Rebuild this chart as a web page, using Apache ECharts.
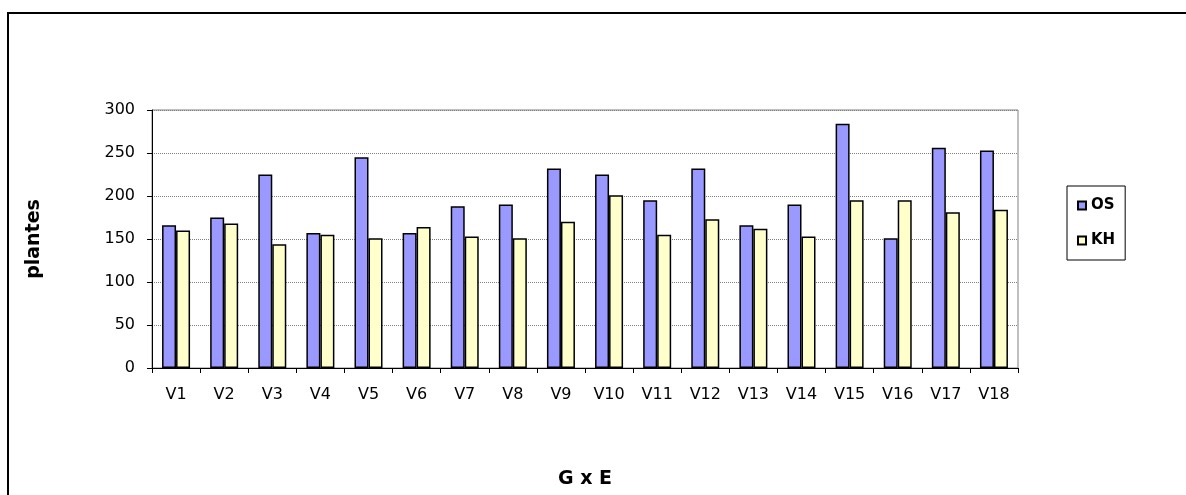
<!DOCTYPE html>
<html>
<head>
<meta charset="utf-8">
<script src="https://cdn.jsdelivr.net/npm/echarts@6/dist/echarts.min.js"></script>
<style>
html,body{margin:0;padding:0;background:#fff;overflow:hidden;}
#chart{width:1186px;height:495px;}
</style>
</head>
<body>
<div id="chart"></div>
<script>
var categories = ['V1','V2','V3','V4','V5','V6','V7','V8','V9','V10','V11','V12','V13','V14','V15','V16','V17','V18'];
var osValues = [166,175,225,157,245,157,188,190,232,225,195,232,166,190,284,151,256,253];
var khValues = [160,168,144,155,151,164,153,151,170,201,155,173,162,153,195,195,181,184];
var yTicks = {min:0, max:300, interval:50};

var chart = echarts.init(document.getElementById('chart'), null, {renderer:'canvas'});
var font = 'DejaVu Sans';
chart.setOption({
  animation:false,
  backgroundColor:'#fff',
  graphic:[
    {type:'line', shape:{x1:8,y1:12,x2:8,y2:495}, style:{stroke:'#000',lineWidth:2}, silent:true},
    {type:'line', shape:{x1:7,y1:13,x2:1186,y2:13}, style:{stroke:'#000',lineWidth:2}, silent:true}
  ],
  grid:{left:152,right:168,top:110,bottom:127,show:true,borderColor:'#808080',borderWidth:1,backgroundColor:'transparent'},
  legend:{
    orient:'vertical', left:1067, top:186,
    data:['OS','KH'],
    itemWidth:8, itemHeight:8, itemGap:20,
    padding:[12,10,12,10],
    borderColor:'#000', borderWidth:1,
    icon:'rect',
    textStyle:{fontFamily:font,fontWeight:'bold',fontSize:15,color:'#000',padding:[0,0,0,0]}
  },
  xAxis:{
    type:'category', data:categories,
    name:'G x E', nameLocation:'middle', nameGap:102,
    nameTextStyle:{fontFamily:font,fontWeight:'bold',fontSize:19,color:'#000'},
    axisLine:{lineStyle:{color:'#000',width:1}},
    axisTick:{show:true,interval:0,length:5,lineStyle:{color:'#000'}},
    axisLabel:{interval:0,fontFamily:font,fontSize:16,color:'#000',margin:19},
    splitLine:{show:false}
  },
  yAxis:{
    type:'value', min:yTicks.min, max:yTicks.max, interval:yTicks.interval,
    name:'plantes', nameLocation:'middle', nameGap:108, nameRotate:90,
    nameTextStyle:{fontFamily:font,fontWeight:'bold',fontSize:19,color:'#000'},
    axisLine:{show:true,lineStyle:{color:'#000',width:1}},
    axisTick:{show:true,length:5,lineStyle:{color:'#000'}},
    axisLabel:{fontFamily:font,fontSize:16,color:'#000',margin:17},
    splitLine:{show:true,lineStyle:{color:'#808080',type:[1,1],width:1}}
  },
  series:[
    {name:'OS',type:'bar',data:osValues,barWidth:14,barGap:'0%',
     itemStyle:{color:'#9999FF',borderColor:'#000',borderWidth:1.5}},
    {name:'KH',type:'bar',data:khValues,barWidth:14,barGap:'0%',
     itemStyle:{color:'#FFFFCC',borderColor:'#000',borderWidth:1.5}}
  ]
});
</script>
</body>
</html>
